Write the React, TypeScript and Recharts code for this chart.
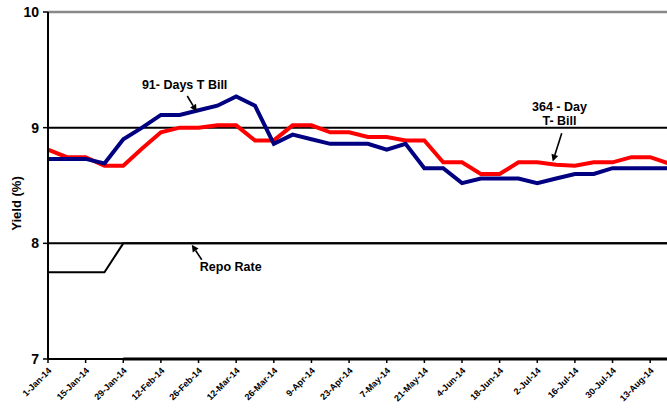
import React from 'react';
import { LineChart, Line, XAxis, YAxis, ReferenceLine, ReferenceDot } from 'recharts';

const dates = [
  '1-Jan-14', '8-Jan-14', '15-Jan-14', '22-Jan-14', '29-Jan-14',
  '5-Feb-14', '12-Feb-14', '19-Feb-14', '26-Feb-14',
  '5-Mar-14', '12-Mar-14', '19-Mar-14', '26-Mar-14',
  '2-Apr-14', '9-Apr-14', '16-Apr-14', '23-Apr-14', '30-Apr-14',
  '7-May-14', '14-May-14', '21-May-14', '28-May-14',
  '4-Jun-14', '11-Jun-14', '18-Jun-14', '25-Jun-14',
  '2-Jul-14', '9-Jul-14', '16-Jul-14', '23-Jul-14', '30-Jul-14',
  '6-Aug-14', '13-Aug-14', '20-Aug-14',
];

const tbill91 = [
  8.73, 8.73, 8.73, 8.69, 8.9, 9.0, 9.11, 9.11, 9.15, 9.19, 9.27, 9.19, 8.86,
  8.94, 8.9, 8.86, 8.86, 8.86, 8.81, 8.86, 8.65, 8.65, 8.52, 8.56, 8.56, 8.56,
  8.52, 8.56, 8.6, 8.6, 8.65, 8.65, 8.65, 8.65,
];

const tbill364 = [
  8.81, 8.745, 8.745, 8.67, 8.67, 8.82, 8.96, 9.0, 9.0, 9.02, 9.02, 8.89, 8.89,
  9.02, 9.02, 8.96, 8.96, 8.92, 8.92, 8.89, 8.89, 8.7, 8.7, 8.6, 8.6, 8.7,
  8.7, 8.68, 8.67, 8.7, 8.7, 8.745, 8.745, 8.69,
];

const repo = [
  7.75, 7.75, 7.75, 7.75, 8, 8, 8, 8, 8, 8, 8, 8, 8, 8, 8, 8, 8, 8, 8, 8, 8,
  8, 8, 8, 8, 8, 8, 8, 8, 8, 8, 8, 8, 8,
];

const reverseRepo = [
  null, null, null, null, 7, 7, 7, 7, 7, 7, 7, 7, 7, 7, 7, 7, 7, 7, 7, 7, 7,
  7, 7, 7, 7, 7, 7, 7, 7, 7, 7, 7, 7, 7,
];

const yTicks = [7, 8, 9, 10];
const xTicks = [0, 2, 4, 6, 8, 10, 12, 14, 16, 18, 20, 22, 24, 26, 28, 30, 32];

const data = dates.map((d, i) => ({
  idx: i,
  date: d,
  t91: tbill91[i],
  t364: tbill364[i],
  repo: repo[i],
  rrepo: reverseRepo[i],
}));

const FONT = '"Liberation Sans", Arial, sans-serif';

const XTick = (props: any) => {
  const { x, y, payload } = props;
  return (
    <text
      x={x + 2}
      y={y + 4}
      textAnchor="end"
      transform={`rotate(-45, ${x + 2}, ${y + 4})`}
      fontFamily={FONT}
      fontWeight="bold"
      fontSize={9}
      fill="#000"
      dominantBaseline="central"
    >
      {dates[payload.value]}
    </text>
  );
};

const YTick = (props: any) => {
  const { x, y, payload } = props;
  return (
    <text
      x={x - 2}
      y={y}
      textAnchor="end"
      dominantBaseline="central"
      fontFamily={FONT}
      fontWeight="bold"
      fontSize={14}
      fill="#000"
    >
      {payload.value}
    </text>
  );
};

const Arrow = (props: any) => {
  const { x1, y1, x2, y2 } = props;
  if ([x1, y1, x2, y2].some((v) => v === undefined || isNaN(v))) return null;
  const ang = Math.atan2(y2 - y1, x2 - x1);
  const L = 7;
  const W = 3.5;
  const bx = x2 - L * Math.cos(ang);
  const by = y2 - L * Math.sin(ang);
  const px = -Math.sin(ang) * W;
  const py = Math.cos(ang) * W;
  return (
    <g>
      <line x1={x1} y1={y1} x2={bx} y2={by} stroke="#000" strokeWidth={1.6} />
      <polygon
        points={`${x2},${y2} ${bx + px},${by + py} ${bx - px},${by - py}`}
        fill="#000"
      />
    </g>
  );
};

const arrowShape = (props: any) => {
  const s = props.segment || [];
  return <Arrow {...props} />;
};

const makeText = (text: string) => (props: any) => {
  const { cx, cy } = props;
  if (cx === undefined || cy === undefined) return null;
  return (
    <text
      x={cx}
      y={cy}
      textAnchor="middle"
      dominantBaseline="central"
      fontFamily={FONT}
      fontWeight="bold"
      fontSize={12.5}
      fill="#000"
    >
      {text}
    </text>
  );
};

const YLabel = (props: any) => {
  const vb = props.viewBox || {};
  const cy = (vb.y || 0) + (vb.height || 0) / 2 + 18;
  const cx = 16;
  return (
    <text
      x={cx}
      y={cy}
      textAnchor="middle"
      dominantBaseline="central"
      transform={`rotate(-90, ${cx}, ${cy})`}
      fontFamily={FONT}
      fontWeight="bold"
      fontSize={13}
      fill="#000"
    >
      Yield (%)
    </text>
  );
};

export default function App() {
  return (
    <div
      style={{
        position: 'absolute',
        left: 0,
        top: 0,
        width: 667,
        height: 409,
        overflow: 'hidden',
        background: '#fff',
      }}
    >
      <LineChart
        width={680}
        height={409}
        data={data}
        margin={{ top: 12, right: 11, bottom: 0, left: 0 }}
      >
        <XAxis
          dataKey="idx"
          type="number"
          domain={[0, 33]}
          ticks={xTicks}
          interval={0}
          height={50}
          axisLine={{ stroke: '#000', strokeWidth: 2 }}
          tickLine={{ stroke: '#000', strokeWidth: 1.5 }}
          tickSize={4}
          tick={<XTick />}
        />
        <YAxis
          type="number"
          domain={[7, 10]}
          ticks={yTicks}
          width={48}
          axisLine={{ stroke: '#000', strokeWidth: 2 }}
          tickLine={{ stroke: '#000', strokeWidth: 1.5 }}
          tickSize={5}
          tick={<YTick />}
          label={<YLabel />}
        />
        <ReferenceLine y={10} stroke="#888" strokeWidth={2.5} />
        <ReferenceLine y={9} stroke="#000" strokeWidth={2} />
        <ReferenceLine y={8} stroke="#000" strokeWidth={2} />
        <Line
          dataKey="rrepo"
          stroke="#000"
          strokeWidth={3}
          dot={false}
          isAnimationActive={false}
          connectNulls={false}
        />
        <Line
          dataKey="repo"
          stroke="#000"
          strokeWidth={2}
          dot={false}
          isAnimationActive={false}
        />
        <Line
          dataKey="t364"
          stroke="#ff0000"
          strokeWidth={4}
          dot={false}
          isAnimationActive={false}
        />
        <Line
          dataKey="t91"
          stroke="#000080"
          strokeWidth={4}
          dot={false}
          isAnimationActive={false}
        />
        <ReferenceDot x={7.26} y={9.37} r={0} shape={makeText('91- Days T Bill')} />
        <ReferenceLine
          segment={[{ x: 7.4, y: 9.274 }, { x: 7.9, y: 9.139 }]}
          shape={arrowShape}
        />
        <ReferenceDot x={9.71} y={7.795} r={0} shape={makeText('Repo Rate')} />
        <ReferenceLine
          segment={[{ x: 8.17, y: 7.858 }, { x: 7.64, y: 7.988 }]}
          shape={arrowShape}
        />
        <ReferenceDot x={27.18} y={9.18} r={0} shape={makeText('364 - Day')} />
        <ReferenceDot x={27.18} y={9.061} r={0} shape={makeText('T- Bill')} />
        <ReferenceLine
          segment={[{ x: 27.3, y: 8.952 }, { x: 26.82, y: 8.707 }]}
          shape={arrowShape}
        />
      </LineChart>
    </div>
  );
}
